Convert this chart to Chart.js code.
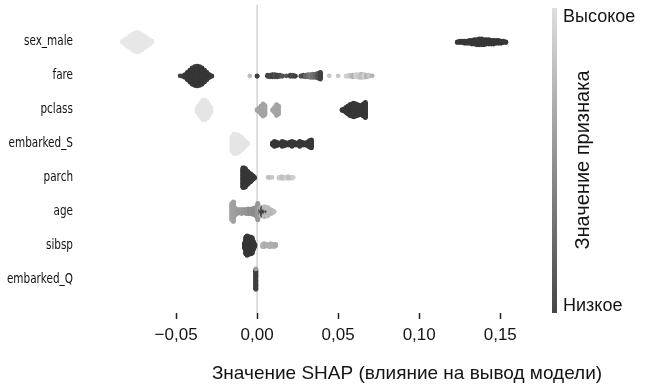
<!DOCTYPE html>
<html>
<head>
<meta charset="utf-8">
<script src="https://cdn.jsdelivr.net/npm/chart.js@4.4.1/dist/chart.umd.min.js"></script>
<style>
    html, body { margin: 0; padding: 0; background: #fff; }
    #wrap { width: 647px; height: 387px; }
</style>
</head>
<body>
<div id="wrap"><canvas id="shap" width="647" height="387"></canvas></div>
<script>
// Feature rows, top to bottom
const features = ['sex_male', 'fare', 'pclass', 'embarked_S', 'parch', 'age', 'sibsp', 'embarked_Q'];
const xTicks = [-0.05, 0.00, 0.05, 0.10, 0.15];

// Each entry: [SHAP value, number of passengers at that value, feature value 0..1]
const sexMaleBins = [
    [-0.083, 3, 0.97], [-0.0815, 7, 0.97], [-0.080, 12, 0.97], [-0.0785, 17, 0.97], [-0.077, 22, 0.97],
    [-0.0755, 26, 0.97], [-0.074, 28, 0.97], [-0.0725, 26, 0.97], [-0.071, 22, 0.97], [-0.0695, 17, 0.97],
    [-0.068, 12, 0.97], [-0.0665, 7, 0.97], [-0.065, 3, 0.97],
    [0.1235, 2, 0.05], [0.125, 3, 0.05], [0.1265, 3, 0.05], [0.128, 4, 0.05], [0.1295, 4, 0.05],
    [0.131, 5, 0.05], [0.1325, 6, 0.05], [0.134, 7, 0.05], [0.1355, 8, 0.05], [0.137, 9, 0.05],
    [0.1385, 9, 0.05], [0.140, 8, 0.05], [0.1415, 7, 0.05], [0.143, 7, 0.05], [0.1445, 6, 0.05],
    [0.146, 6, 0.05], [0.1475, 5, 0.05], [0.149, 5, 0.05], [0.1505, 4, 0.05], [0.152, 3, 0.05], [0.1535, 2, 0.05]
];
const fareBins = [
    [-0.0475, 1, 0.1], [-0.046, 2, 0.1], [-0.0445, 6, 0.05], [-0.043, 14, 0.05], [-0.0415, 22, 0.05],
    [-0.040, 30, 0.05], [-0.0385, 34, 0.05], [-0.037, 36, 0.05], [-0.0355, 34, 0.05], [-0.034, 30, 0.05],
    [-0.0325, 22, 0.05], [-0.031, 14, 0.05], [-0.0295, 6, 0.05], [-0.028, 2, 0.05],
    [-0.0045, 1, 0.75], [0.000, 2, 0.1], [0.0065, 3, 0.1], [0.008, 4, 0.15], [0.0095, 5, 0.1],
    [0.011, 5, 0.15], [0.0125, 4, 0.1], [0.014, 3, 0.15], [0.0155, 2, 0.2], [0.018, 1, 0.2],
    [0.0205, 3, 0.1], [0.022, 3, 0.15], [0.0235, 2, 0.1], [0.027, 2, 0.2], [0.0285, 3, 0.15],
    [0.030, 4, 0.3], [0.0315, 5, 0.35], [0.033, 6, 0.4], [0.0345, 7, 0.35], [0.036, 7, 0.3],
    [0.0375, 9, 0.2], [0.039, 13, 0.1],
    [0.0445, 1, 0.8], [0.050, 1, 0.8], [0.055, 2, 0.85], [0.057, 3, 0.8], [0.059, 4, 0.7],
    [0.061, 5, 0.85], [0.063, 6, 0.8], [0.0645, 7, 0.75], [0.066, 6, 0.85], [0.0675, 4, 0.7],
    [0.069, 3, 0.8], [0.071, 1, 0.7]
];
const pclassBins = [
    [-0.037, 6, 0.96], [-0.0358, 14, 0.96], [-0.0346, 22, 0.96], [-0.0334, 28, 0.96], [-0.0322, 28, 0.96],
    [-0.031, 24, 0.96], [-0.0298, 16, 0.96], [-0.0286, 8, 0.96],
    [0.000, 2, 0.62], [0.0012, 6, 0.62], [0.0024, 12, 0.62], [0.0036, 18, 0.62], [0.0048, 14, 0.62],
    [0.0096, 2, 0.62], [0.0108, 8, 0.62], [0.012, 16, 0.62], [0.0132, 12, 0.62],
    [0.0524, 2, 0.05], [0.0536, 4, 0.05], [0.0548, 8, 0.05], [0.056, 12, 0.05], [0.0572, 16, 0.05],
    [0.0584, 18, 0.05], [0.0596, 20, 0.05], [0.0608, 18, 0.05], [0.062, 16, 0.05], [0.0632, 14, 0.05],
    [0.0644, 14, 0.05], [0.0656, 18, 0.05], [0.0668, 22, 0.05]
];
const embarkedSBins = [
    [-0.0155, 20, 0.96], [-0.0143, 28, 0.96], [-0.0131, 28, 0.96], [-0.0119, 26, 0.96], [-0.0107, 22, 0.96],
    [-0.0095, 18, 0.96], [-0.0083, 12, 0.96], [-0.0071, 7, 0.96], [-0.0059, 3, 0.96],
    [0.0095, 4, 0.05], [0.0107, 8, 0.05], [0.0119, 6, 0.05], [0.0131, 4, 0.05], [0.0143, 4, 0.05],
    [0.0155, 8, 0.05], [0.0167, 6, 0.05], [0.0179, 4, 0.05], [0.0191, 4, 0.05], [0.0203, 5, 0.05],
    [0.0215, 8, 0.05], [0.0227, 5, 0.05], [0.0239, 4, 0.05], [0.0251, 4, 0.05], [0.0263, 8, 0.05],
    [0.0275, 5, 0.05], [0.0287, 4, 0.05], [0.0299, 4, 0.05], [0.0311, 6, 0.05], [0.0323, 10, 0.05],
    [0.0335, 12, 0.05]
];
const parchBins = [
    [-0.0088, 28, 0.05], [-0.008, 28, 0.05], [-0.0072, 26, 0.05], [-0.0064, 20, 0.05], [-0.0056, 18, 0.05],
    [-0.0048, 14, 0.05], [-0.004, 12, 0.05], [-0.0032, 8, 0.05], [-0.0024, 5, 0.05], [-0.0016, 2, 0.05],
    [0.0068, 1, 0.8], [0.0076, 1, 0.75], [0.0092, 1, 0.8], [0.0135, 2, 0.8], [0.0143, 2, 0.85],
    [0.0151, 3, 0.8], [0.0159, 2, 0.75], [0.0167, 2, 0.8], [0.0183, 2, 0.85], [0.0191, 3, 0.8],
    [0.020, 2, 0.75], [0.0215, 2, 0.8], [0.0223, 1, 0.85]
];
const ageBins = [
    [-0.0156, 22, 0.62], [-0.0146, 26, 0.6], [-0.0136, 10, 0.6], [-0.0126, 6, 0.58], [-0.0116, 5, 0.58],
    [-0.0106, 5, 0.55], [-0.0096, 6, 0.58], [-0.0086, 5, 0.55], [-0.0076, 5, 0.55], [-0.0066, 6, 0.52],
    [-0.0056, 7, 0.55], [-0.0046, 6, 0.5], [-0.0036, 7, 0.52], [-0.0026, 8, 0.5], [-0.0016, 9, 0.5],
    [-0.0006, 12, 0.5], [0.0004, 22, 0.55], [0.0014, 10, 0.6], [0.0024, 8, 0.2], [0.0024, 4, 0.7],
    [0.0034, 10, 0.15], [0.0044, 8, 0.1], [0.0044, 6, 0.75], [0.0054, 6, 0.2], [0.0054, 6, 0.7],
    [0.0064, 6, 0.15], [0.0064, 6, 0.75], [0.0074, 8, 0.72], [0.0084, 6, 0.75], [0.0094, 4, 0.7],
    [0.0104, 2, 0.75]
];
const sibspBins = [
    [-0.0078, 8, 0.05], [-0.007, 24, 0.05], [-0.0062, 28, 0.05], [-0.0054, 26, 0.05], [-0.0046, 20, 0.05],
    [-0.0038, 24, 0.05], [-0.003, 22, 0.05], [-0.0022, 12, 0.05], [-0.0014, 4, 0.05],
    [0.0034, 4, 0.7], [0.0044, 5, 0.7], [0.0054, 3, 0.65], [0.0064, 2, 0.7], [0.0074, 4, 0.65],
    [0.0084, 5, 0.7], [0.0094, 3, 0.65], [0.0104, 4, 0.7], [0.0114, 3, 0.65]
];
const embarkedQBins = [
    [-0.0008, 36, 0.1], [-0.0008, 1, 0.6]
];

const rowBins = [sexMaleBins, fareBins, pclassBins, embarkedSBins, parchBins, ageBins, sibspBins, embarkedQBins];

// feature value -> grey level (high = light, low = dark)
function levelColor(lv) {
    const g = Math.round(45 + lv * 192);
    return `rgb(${g},${g},${g})`;
}

// Stack points sharing a SHAP value up and down around the row centre
function swarmRow(bins, row) {
    const piles = new Map();
    bins.forEach(([v, n, lv]) => {
        const key = v.toFixed(5);
        if (!piles.has(key)) piles.set(key, []);
        for (let i = 0; i < n; i++) piles.get(key).push({ v, lv });
    });

    let maxOff = 1;
    piles.forEach(p => { maxOff = Math.max(maxOff, Math.ceil((p.length - 1) / 2)); });
    const step = 0.3 / maxOff;

    const points = [];
    const colors = [];
    piles.forEach(p => {
        p.forEach((pt, k) => {
            const off = Math.ceil(k / 2) * (k % 2 ? 1 : -1) * step;
            points.push({ x: pt.v, y: row + off });
            colors.push(levelColor(pt.lv));
        });
    });
    return { points, colors };
}

const datasets = rowBins.map((bins, row) => {
    const { points, colors } = swarmRow(bins, row);
    return {
        label: features[row],
        data: points,
        pointBackgroundColor: colors,
        pointBorderWidth: 0,
        pointRadius: 2.4,
        pointHoverRadius: 2.4,
        showLine: false
    };
});

function formatTick(v) {
    return v.toFixed(2).replace('.', ',').replace('-', '\u2212');
}

// Zero line, feature names, colour bar and the free-standing texts
const decor = {
    id: 'decor',
    beforeDatasetsDraw(chart) {
        const { ctx, chartArea } = chart;
        const x0 = chart.scales.x.getPixelForValue(0);
        ctx.save();
        ctx.strokeStyle = '#d2d2d2';
        ctx.lineWidth = 1.5;
        ctx.beginPath();
        ctx.moveTo(x0, chartArea.top - 3);
        ctx.lineTo(x0, chartArea.bottom);
        ctx.stroke();
        ctx.restore();
    },
    afterDraw(chart) {
        const { ctx } = chart;
        const yScale = chart.scales.y;
        ctx.save();

        // feature names: narrow face, right edge well left of the plot
        ctx.fillStyle = '#111';
        ctx.textAlign = 'right';
        ctx.textBaseline = 'middle';
        ctx.font = '13.5px "DejaVu Sans Condensed", sans-serif';
        features.forEach((name, i) => {
            ctx.save();
            ctx.translate(73, yScale.getPixelForValue(i));
            ctx.scale(0.86, 1);
            ctx.fillText(name, 0, 0);
            ctx.restore();
        });

        const grad = ctx.createLinearGradient(0, 8, 0, 313);
        grad.addColorStop(0, 'rgb(222,222,222)');
        grad.addColorStop(1, 'rgb(70,70,70)');
        ctx.fillStyle = grad;
        ctx.fillRect(552, 8, 5, 305);

        ctx.fillStyle = '#141414';
        ctx.textAlign = 'left';
        ctx.font = '18px "Liberation Sans", Arial, sans-serif';
        ctx.fillText('Высокое', 563, 17);
        ctx.fillText('Низкое', 563, 306);

        ctx.save();
        ctx.translate(583, 160);
        ctx.rotate(-Math.PI / 2);
        ctx.textAlign = 'center';
        ctx.font = '20px "Liberation Sans", Arial, sans-serif';
        ctx.fillText('Значение признака', 0, 0);
        ctx.restore();

        ctx.textAlign = 'center';
        ctx.font = '19px "Liberation Sans", Arial, sans-serif';
        ctx.fillText('Значение SHAP (влияние на вывод модели)', 407, 374);
        ctx.restore();
    }
};

new Chart(document.getElementById('shap'), {
    type: 'scatter',
    data: { datasets },
    plugins: [decor],
    options: {
        responsive: false,
        animation: false,
        events: [],
        layout: { padding: { left: 0, right: 120, top: 8, bottom: 0 } },
        plugins: {
            legend: { display: false },
            tooltip: { enabled: false }
        },
        scales: {
            x: {
                type: 'linear',
                min: -0.092,
                max: 0.1665,
                afterBuildTicks: scale => { scale.ticks = xTicks.map(v => ({ value: v })); },
                afterFit: scale => { scale.height = 74; },
                border: { display: false },
                grid: {
                    drawOnChartArea: false,
                    drawTicks: true,
                    tickLength: 6,
                    tickWidth: 1.5,
                    tickColor: '#222'
                },
                ticks: {
                    padding: 6,
                    color: '#141414',
                    maxRotation: 0,
                    font: { family: '"Liberation Sans", Arial, sans-serif', size: 17 },
                    callback: v => formatTick(v)
                }
            },
            y: {
                type: 'linear',
                reverse: true,
                min: -1,
                max: 8,
                afterBuildTicks: scale => { scale.ticks = features.map((_, i) => ({ value: i })); },
                afterFit: scale => { scale.width = 108; },
                border: { display: false },
                grid: { display: false },
                ticks: { display: false }
            }
        }
    }
});
</script>
</body>
</html>
